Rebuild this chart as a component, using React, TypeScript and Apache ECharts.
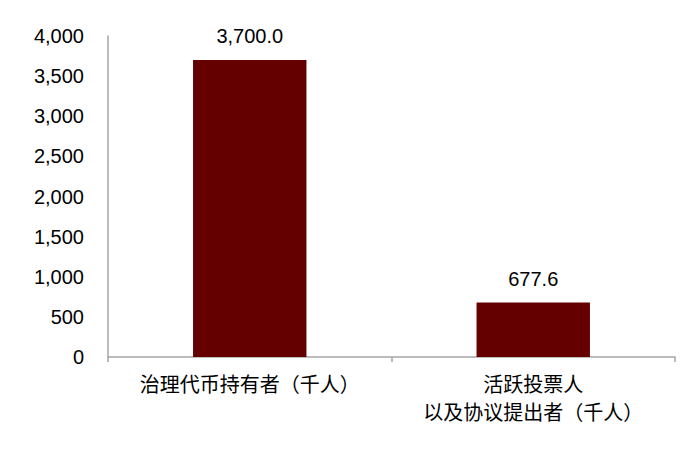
import { useEffect, useRef } from 'react';
import * as echarts from 'echarts';

const categories = ['治理代币持有者（千人）', '活跃投票人\n以及协议提出者（千人）'];
const values = [3700.0, 677.6];
const yTicks = [0, 500, 1000, 1500, 2000, 2500, 3000, 3500, 4000];

const fmt = (v: number) => v.toLocaleString('en-US');

const App = () => {
  const chartRef = useRef<HTMLDivElement>(null);

  useEffect(() => {
    if (!chartRef.current) return;
    const chart = echarts.init(chartRef.current, null, { renderer: 'svg' });

    const options: echarts.EChartsOption = {
      animation: false,
      backgroundColor: '#ffffff',
      grid: { left: 108, right: 25, top: 36, bottom: 96, containLabel: false },
      xAxis: {
        type: 'category',
        data: categories,
        axisLine: { lineStyle: { color: '#a6a6a6', width: 1.5 } },
        axisTick: { show: true, alignWithLabel: false, length: 5, lineStyle: { color: '#a6a6a6', width: 1.5 } },
        axisLabel: {
          interval: 0,
          hideOverlap: false,
          color: '#000',
          fontSize: 20,
          lineHeight: 28,
          margin: 12,
          fontFamily: '"Noto Sans CJK SC", sans-serif',
        },
      },
      yAxis: {
        type: 'value',
        min: yTicks[0],
        max: yTicks[yTicks.length - 1],
        interval: 500,
        axisLine: { show: true, lineStyle: { color: '#a6a6a6', width: 1.5 } },
        axisTick: { show: false },
        splitLine: { show: false },
        axisLabel: {
          color: '#000',
          fontSize: 20,
          margin: 24,
          fontFamily: '"Liberation Sans", Arial, sans-serif',
          formatter: (v: number) => fmt(v),
        },
      },
      series: [
        {
          type: 'bar',
          data: values,
          barWidth: '40%',
          itemStyle: { color: '#640000' },
          label: {
            show: true,
            position: 'top',
            distance: 14,
            color: '#000',
            fontSize: 20,
            fontFamily: '"Liberation Sans", Arial, sans-serif',
            formatter: (p: any) =>
              Number(p.value).toLocaleString('en-US', { minimumFractionDigits: 1, maximumFractionDigits: 1 }),
          },
        },
      ],
    };

    chart.setOption(options);
    return () => chart.dispose();
  }, []);

  return <div ref={chartRef} style={{ width: 700, height: 453, margin: -8 }} />;
};

export default App;
